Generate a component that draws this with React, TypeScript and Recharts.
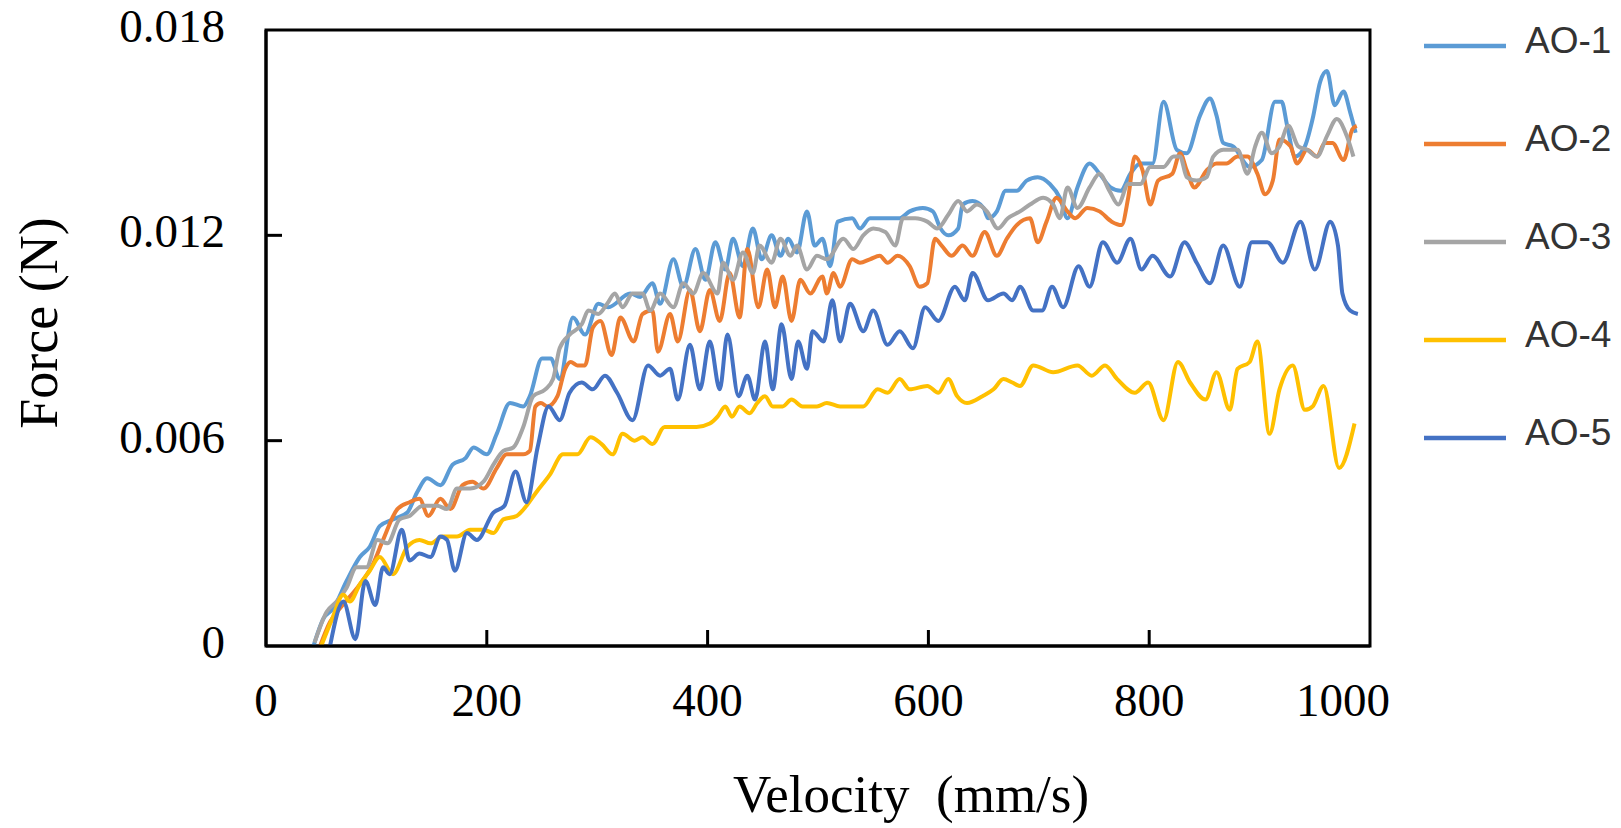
import React from "react";
import { LineChart, Line, XAxis, YAxis, Legend, ReferenceArea } from "recharts";

// velocity (mm/s) vs force (N)
const velocityTicks = [0, 200, 400, 600, 800, 1000];
const forceTicks = [0, 0.006, 0.012, 0.018];

const ao1: [number, number][] = [
  [43, 0], [52, 0.0008], [61, 0.0011], [73, 0.0019], [85, 0.0026], [94, 0.0029],
  [103, 0.0035], [115, 0.0037], [128, 0.0039], [137, 0.0045], [146, 0.0049], [158, 0.0047],
  [169, 0.0053], [181, 0.0055], [188, 0.0058], [200, 0.0056], [209, 0.0062], [221, 0.0071],
  [233, 0.007], [239, 0.0073], [250, 0.0084], [258, 0.0084], [266, 0.0078], [278, 0.0096],
  [289, 0.0091], [301, 0.01], [310, 0.0099], [330, 0.0103], [339, 0.0102], [350, 0.0106],
  [357, 0.01], [369, 0.0113], [378, 0.0105], [389, 0.0116], [398, 0.0107], [407, 0.0118],
  [416, 0.011], [423, 0.0119], [432, 0.0111], [441, 0.0122], [449, 0.0113], [458, 0.012],
  [466, 0.0114], [473, 0.0119], [481, 0.0115], [490, 0.0127], [497, 0.0117], [504, 0.0119],
  [511, 0.0111], [518, 0.0124], [531, 0.0125], [538, 0.0122], [547, 0.0125], [563, 0.0125],
  [574, 0.0125], [583, 0.0127], [595, 0.0128], [604, 0.0127], [611, 0.0122], [618, 0.012],
  [627, 0.0122], [631, 0.0129], [640, 0.013], [650, 0.0128], [654, 0.0125], [662, 0.0127],
  [670, 0.0133], [680, 0.0133], [689, 0.0136], [699, 0.0137], [710, 0.0135], [719, 0.0131],
  [726, 0.0125], [735, 0.0134], [746, 0.0141], [755, 0.0138], [765, 0.0134], [774, 0.0133],
  [783, 0.0138], [792, 0.0141], [803, 0.0141], [813, 0.0159], [825, 0.0145], [834, 0.0144],
  [846, 0.0155], [855, 0.016], [861, 0.0155], [867, 0.0147], [876, 0.0146], [891, 0.014],
  [902, 0.0142], [914, 0.0159], [920, 0.0159], [925, 0.0152], [932, 0.0143], [941, 0.0146],
  [948, 0.0154], [955, 0.0165], [961, 0.0168], [968, 0.0158], [976, 0.0162], [982, 0.0156],
  [987, 0.015],
];

const ao2: [number, number][] = [
  [49, 0], [58, 0.0007], [67, 0.0011], [85, 0.0018], [97, 0.0024], [106, 0.0031],
  [119, 0.004], [130, 0.0042], [139, 0.0043], [147, 0.0038], [158, 0.0043], [167, 0.004],
  [178, 0.0047], [187, 0.0048], [197, 0.0046], [209, 0.0052], [218, 0.0056], [233, 0.0056],
  [239, 0.0057], [244, 0.007], [249, 0.0071], [255, 0.007], [264, 0.0073], [271, 0.0081],
  [276, 0.0083], [282, 0.0082], [289, 0.0082], [296, 0.0093], [303, 0.0095], [313, 0.0085],
  [321, 0.0096], [333, 0.0089], [341, 0.0097], [350, 0.0098], [355, 0.0086], [366, 0.0097],
  [373, 0.0089], [384, 0.0104], [393, 0.0092], [402, 0.0104], [411, 0.0095], [420, 0.0109],
  [429, 0.0096], [436, 0.0116], [446, 0.0099], [454, 0.011], [461, 0.0099], [468, 0.0108],
  [476, 0.0095], [484, 0.0107], [493, 0.0103], [504, 0.0108], [508, 0.0103], [514, 0.0109],
  [520, 0.0105], [531, 0.0113], [538, 0.0112], [547, 0.0113], [556, 0.0114], [563, 0.0112],
  [572, 0.0114], [583, 0.0111], [592, 0.0105], [599, 0.0106], [606, 0.0119], [612, 0.0117],
  [621, 0.0114], [631, 0.0117], [640, 0.0114], [651, 0.0121], [662, 0.0114], [671, 0.0119],
  [680, 0.0123], [692, 0.0125], [699, 0.0118], [707, 0.0124], [716, 0.0131], [726, 0.0127],
  [733, 0.0125], [744, 0.0128], [755, 0.0127], [766, 0.0124], [775, 0.0123], [781, 0.0131],
  [787, 0.0143], [794, 0.0139], [801, 0.0129], [808, 0.0136], [821, 0.0138], [828, 0.0144],
  [834, 0.0139], [841, 0.0134], [852, 0.0139], [861, 0.0141], [870, 0.0141], [880, 0.0143],
  [889, 0.0143], [898, 0.0138], [905, 0.0132], [912, 0.0136], [918, 0.0148], [928, 0.0146],
  [934, 0.0141], [943, 0.0145], [952, 0.0143], [959, 0.0147], [966, 0.0147], [976, 0.0142],
  [984, 0.0151], [988, 0.0152],
];

const ao3: [number, number][] = [
  [44, 0.0001], [55, 0.001], [64, 0.0013], [73, 0.0017], [82, 0.0023], [91, 0.0023],
  [101, 0.0031], [110, 0.003], [121, 0.0037], [130, 0.0038], [142, 0.0041], [155, 0.0041],
  [164, 0.004], [173, 0.0046], [185, 0.0046], [197, 0.0048], [206, 0.0053], [215, 0.0057],
  [224, 0.0058], [233, 0.0064], [242, 0.0073], [253, 0.0075], [260, 0.0078], [266, 0.0087],
  [275, 0.0091], [286, 0.0094], [292, 0.0098], [301, 0.0097], [309, 0.01], [316, 0.0103],
  [323, 0.0099], [332, 0.0103], [341, 0.0103], [348, 0.0098], [357, 0.0103], [369, 0.0099],
  [378, 0.0106], [387, 0.0103], [396, 0.0109], [409, 0.0103], [414, 0.0112], [423, 0.0107],
  [432, 0.0115], [441, 0.0109], [447, 0.0117], [458, 0.0112], [466, 0.0119], [475, 0.0114],
  [481, 0.0117], [490, 0.011], [499, 0.0114], [508, 0.0113], [523, 0.0119], [532, 0.0116],
  [541, 0.012], [550, 0.0122], [561, 0.0121], [570, 0.0117], [577, 0.0125], [588, 0.0125],
  [599, 0.0124], [608, 0.0122], [618, 0.0126], [627, 0.013], [635, 0.0127], [644, 0.0129],
  [653, 0.0127], [663, 0.0122], [672, 0.0125], [683, 0.0127], [692, 0.0129], [704, 0.0131],
  [713, 0.0129], [719, 0.0125], [726, 0.0134], [735, 0.0128], [746, 0.0134], [755, 0.0138],
  [764, 0.0133], [772, 0.0129], [781, 0.0135], [792, 0.0135], [801, 0.014], [813, 0.014],
  [822, 0.0143], [828, 0.0143], [834, 0.0137], [843, 0.0136], [852, 0.0137], [858, 0.0143],
  [867, 0.0145], [880, 0.0145], [889, 0.0138], [896, 0.0146], [902, 0.015], [911, 0.0144],
  [918, 0.0146], [926, 0.0152], [935, 0.0146], [943, 0.0145], [952, 0.0143], [961, 0.0149],
  [970, 0.0154], [979, 0.0149], [985, 0.0143],
];

const ao4: [number, number][] = [
  [50, 0], [60, 0.0008], [70, 0.0015], [76, 0.0013], [85, 0.0018], [94, 0.0022],
  [103, 0.0026], [115, 0.0021], [128, 0.0029], [139, 0.0031], [149, 0.003], [160, 0.0032],
  [173, 0.0032], [185, 0.0034], [197, 0.0034], [206, 0.0033], [215, 0.0037], [227, 0.0038],
  [236, 0.0041], [245, 0.0045], [257, 0.005], [269, 0.0056], [282, 0.0056], [294, 0.0061],
  [304, 0.0059], [314, 0.0056], [323, 0.0062], [334, 0.006], [341, 0.0061], [350, 0.0059],
  [361, 0.0064], [375, 0.0064], [390, 0.0064], [402, 0.0065], [409, 0.0067], [416, 0.007],
  [422, 0.0067], [429, 0.007], [438, 0.0068], [445, 0.0071], [452, 0.0073], [459, 0.007],
  [468, 0.007], [476, 0.0072], [486, 0.007], [499, 0.007], [508, 0.0071], [520, 0.007],
  [541, 0.007], [554, 0.0075], [563, 0.0074], [574, 0.0078], [583, 0.0075], [599, 0.0076],
  [609, 0.0074], [618, 0.0078], [626, 0.0073], [635, 0.0071], [649, 0.0073], [659, 0.0075],
  [668, 0.0078], [676, 0.0077], [683, 0.0076], [695, 0.0082], [713, 0.008], [735, 0.0082],
  [748, 0.0079], [760, 0.0082], [771, 0.0078], [787, 0.0074], [799, 0.0077], [813, 0.0066],
  [826, 0.0083], [837, 0.0077], [851, 0.0072], [861, 0.008], [873, 0.0069], [880, 0.0081],
  [891, 0.0083], [898, 0.0089], [909, 0.0062], [918, 0.0075], [930, 0.0082], [941, 0.0069],
  [948, 0.007], [958, 0.0076], [972, 0.0052], [986, 0.0065],
];

const ao5: [number, number][] = [
  [58, 0], [70, 0.0013], [81, 0.0002], [90, 0.0019], [99, 0.0012], [106, 0.0023],
  [112, 0.0021], [123, 0.0034], [130, 0.0025], [139, 0.0027], [149, 0.0026], [158, 0.0032],
  [164, 0.0031], [171, 0.0022], [182, 0.0033], [191, 0.0031], [206, 0.0039], [216, 0.0041],
  [226, 0.0051], [236, 0.0042], [246, 0.0058], [256, 0.007], [266, 0.0066], [275, 0.0074],
  [286, 0.0077], [296, 0.0075], [307, 0.0079], [318, 0.0074], [332, 0.0066], [346, 0.0082],
  [357, 0.0079], [366, 0.0081], [373, 0.0072], [384, 0.0088], [393, 0.0075], [402, 0.0089],
  [411, 0.0075], [418, 0.0091], [428, 0.0073], [436, 0.0079], [443, 0.0072], [452, 0.0089],
  [459, 0.0075], [467, 0.0094], [476, 0.0078], [482, 0.0089], [490, 0.0081], [495, 0.0092],
  [505, 0.0089], [513, 0.0101], [520, 0.0089], [529, 0.01], [541, 0.0092], [550, 0.0098],
  [563, 0.0088], [574, 0.0092], [586, 0.0087], [597, 0.0099], [609, 0.0095], [624, 0.0105],
  [633, 0.0101], [640, 0.0109], [654, 0.0101], [668, 0.0103], [676, 0.0101], [683, 0.0105],
  [695, 0.0098], [703, 0.0098], [712, 0.0105], [722, 0.0099], [736, 0.0111], [746, 0.0105],
  [758, 0.0118], [771, 0.0112], [783, 0.0119], [793, 0.011], [803, 0.0114], [819, 0.0108],
  [832, 0.0118], [843, 0.0112], [855, 0.0106], [867, 0.0117], [882, 0.0105], [893, 0.0118],
  [907, 0.0118], [921, 0.0112], [937, 0.0124], [950, 0.011], [964, 0.0124], [971, 0.0117],
  [975, 0.0103], [982, 0.0098], [989, 0.0097],
];

const seriesNames = ["AO-1", "AO-2", "AO-3", "AO-4", "AO-5"];
const seriesColors = ["#5B9BD5", "#ED7D31", "#A5A5A5", "#FFC000", "#4472C4"];
const seriesData = [ao1, ao2, ao3, ao4, ao5];

const toPoints = (pairs: [number, number][]) => pairs.map(([v, f]) => ({ v, f }));

const serif = "'Liberation Serif', 'Times New Roman', serif";
const sans = "'Liberation Sans', Arial, sans-serif";

function XTick(props: any) {
  const { x, y, payload } = props;
  const val = payload.value;
  // the last label sits a little inside the frame in the original
  const shift = val === 1000 ? -27 : 0;
  return (
    <g>
      {val > 0 && val < 1000 && (
        <line x1={x} x2={x} y1={y} y2={y - 16} stroke="#000" strokeWidth={3} />
      )}
      <text x={x + shift} y={y + 70} textAnchor="middle" fontFamily={serif} fontSize={47} fill="#000">
        {val}
      </text>
    </g>
  );
}

function YTick(props: any) {
  const { x, y, payload } = props;
  const val = payload.value;
  const label = val === 0 ? "0" : val.toFixed(3);
  return (
    <g>
      {val > 0 && val < 0.018 && (
        <line x1={x} x2={x + 16} y1={y} y2={y} stroke="#000" strokeWidth={3} />
      )}
      <text x={x - 41} y={y + 12} textAnchor="end" fontFamily={serif} fontSize={47} fill="#000">
        {label}
      </text>
    </g>
  );
}

function LegendBox(props: any) {
  const items = props.payload || [];
  return (
    <div>
      {items.map((it: any) => (
        <div key={it.value} style={{ height: 98, display: "flex", alignItems: "center" }}>
          <svg width={82} height={8}>
            <line x1={0} x2={82} y1={4} y2={4} stroke={it.color} strokeWidth={4.5} />
          </svg>
          <span
            style={{
              marginLeft: 19,
              position: "relative",
              top: -6,
              fontFamily: sans,
              fontSize: 37,
              color: "#333",
              lineHeight: 1,
            }}
          >
            {it.value}
          </span>
        </div>
      ))}
    </div>
  );
}

export default function App() {
  return (
    <div style={{ position: "absolute", left: 0, top: 0, width: 1621, height: 828, background: "#fff" }}>
      <LineChart width={1621} height={828} margin={{ top: 30, right: 251, bottom: 122, left: 166 }}>
        <XAxis
          type="number"
          dataKey="v"
          domain={[0, 1000]}
          ticks={velocityTicks}
          interval={0}
          height={60}
          tickSize={0}
          tickMargin={0}
          axisLine={{ stroke: "#000", strokeWidth: 3 }}
          tick={<XTick />}
        />
        <YAxis
          type="number"
          domain={[0, 0.018]}
          ticks={forceTicks}
          interval={0}
          width={100}
          tickSize={0}
          tickMargin={0}
          axisLine={{ stroke: "#000", strokeWidth: 3 }}
          tick={<YTick />}
        />
        <ReferenceArea
          x1={0}
          x2={1000}
          y1={0}
          y2={0.018}
          fill="none"
          stroke="#000"
          strokeWidth={3}
          ifOverflow="visible"
        />
        {seriesData.map((d, i) => (
          <Line
            key={seriesNames[i]}
            name={seriesNames[i]}
            data={toPoints(d)}
            dataKey="f"
            type="monotone"
            stroke={seriesColors[i]}
            strokeWidth={4}
            dot={false}
            activeDot={false}
            isAnimationActive={false}
          />
        ))}
        <Legend
          layout="vertical"
          align="center"
          verticalAlign="middle"
          content={<LegendBox />}
          wrapperStyle={{ left: 1424, top: -3, width: 190, right: "auto", bottom: "auto" }}
        />
      </LineChart>
      <div
        style={{
          position: "absolute",
          left: 39,
          top: 323,
          transform: "translate(-50%, -50%) rotate(-90deg)",
          fontFamily: serif,
          fontSize: 54,
          whiteSpace: "nowrap",
          color: "#000",
        }}
      >
        Force (N)
      </div>
      <div
        style={{
          position: "absolute",
          left: 911,
          top: 794,
          transform: "translate(-50%, -50%)",
          fontFamily: serif,
          fontSize: 53,
          whiteSpace: "pre",
          color: "#000",
        }}
      >
        Velocity  (mm/s)
      </div>
    </div>
  );
}
